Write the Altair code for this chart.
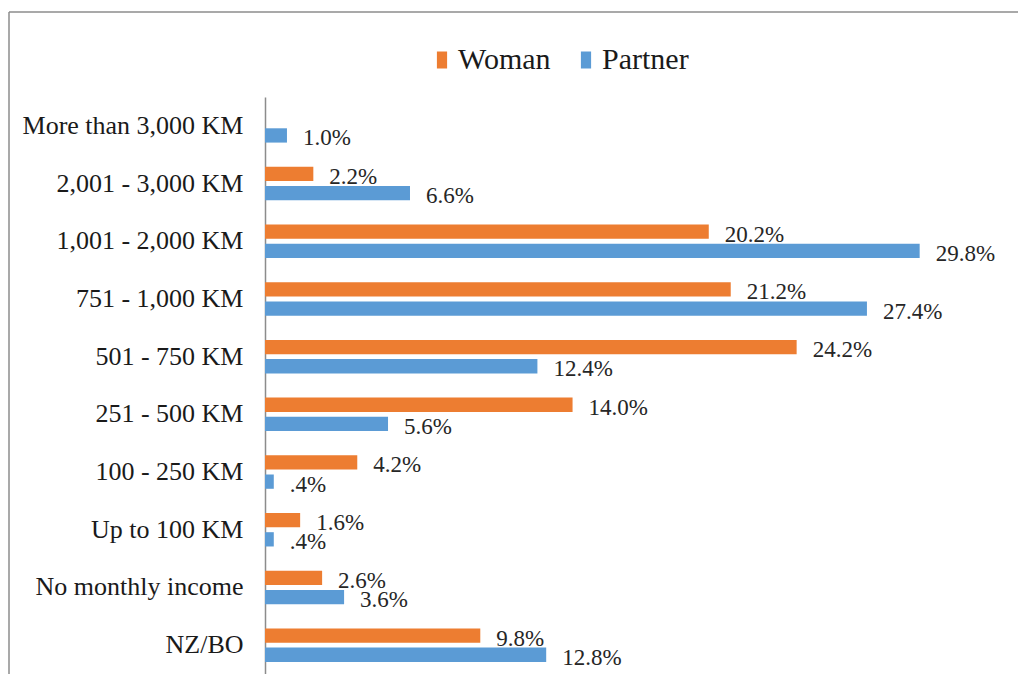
import altair as alt
import pandas as pd

categories = ["More than 3,000 KM", "2,001 - 3,000 KM", "1,001 - 2,000 KM", "751 - 1,000 KM",
              "501 - 750 KM", "251 - 500 KM", "100 - 250 KM", "Up to 100 KM",
              "No monthly income", "NZ/BO"]
woman = [None, 2.2, 20.2, 21.2, 24.2, 14.0, 4.2, 1.6, 2.6, 9.8]
partner = [1.0, 6.6, 29.8, 27.4, 12.4, 5.6, 0.4, 0.4, 3.6, 12.8]
series = ["Woman", "Partner"]
colors = ["#ED7D31", "#5B9BD5"]

rows = []
for c, w, p in zip(categories, woman, partner):
    for s, v in (("Woman", w), ("Partner", p)):
        if v is None:
            continue
        rows.append({"cat": c, "series": s, "value": v,
                     "label": ("%.1f%%" % v).lstrip("0")})
df = pd.DataFrame(rows)

W, H = 703, 577
FONT = "Liberation Serif"

y_enc = alt.Y("cat:N", sort=categories, title=None,
              scale=alt.Scale(paddingInner=0.42, paddingOuter=0.21),
              axis=alt.Axis(labelFont=FONT, labelFontSize=26, labelColor="#1a1a1a",
                            labelPadding=22, ticks=False, domainColor="#8c8c8c",
                            domainWidth=1.5, labelLimit=400))
yoff = alt.YOffset("series:N", sort=series,
                   scale=alt.Scale(paddingInner=0.255, paddingOuter=0))
x_enc = alt.X("value:Q", scale=alt.Scale(domain=[0, 32]), axis=None)

bars = alt.Chart(df).mark_bar().encode(
    x=x_enc, y=y_enc, yOffset=yoff,
    color=alt.Color("series:N", sort=series,
                    scale=alt.Scale(domain=series, range=colors),
                    legend=alt.Legend(title=None, orient="none", direction="horizontal",
                                      legendX=162, legendY=-52,
                                      labelFont=FONT, labelFontSize=30, labelColor="#1a1a1a",
                                      symbolType="M-0.6,-1H0.6V1H-0.6Z", symbolSize=289,
                                      symbolStrokeWidth=0, labelOffset=1, columnPadding=20,
                                      padding=0, labelLimit=300)),
)

text = alt.Chart(df).mark_text(align="left", baseline="middle", dx=16, dy=3,
                               font=FONT, fontSize=23, color="#262626").encode(
    x=x_enc, y=alt.Y("cat:N", sort=categories), yOffset=yoff, text="label:N")

frame_df = pd.DataFrame({"f": [0]})
top_line = alt.Chart(frame_df).mark_rule(color="#8c8c8c", strokeWidth=1.5).encode(
    x=alt.value(-256), x2=alt.value(W + 60), y=alt.value(-85))
left_line = alt.Chart(frame_df).mark_rule(color="#8c8c8c", strokeWidth=1.5).encode(
    x=alt.value(-256), y=alt.value(-85), y2=alt.value(H + 100))

chart = alt.layer(top_line, left_line, bars, text).properties(
    width=W, height=H,
    background="white",
    autosize=alt.AutoSizeParams(type="none"),
    padding={"left": 257, "top": 89, "right": 50, "bottom": 0},
).configure_view(strokeWidth=0, stroke="transparent")

chart.save("out.html", embed_options={"renderer": "svg", "actions": False})
